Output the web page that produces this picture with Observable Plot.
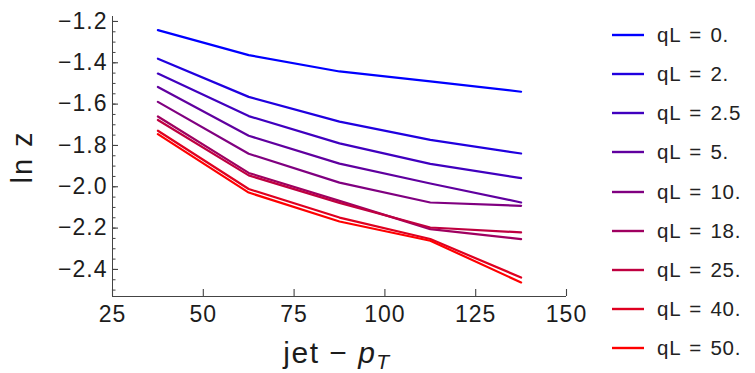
<!DOCTYPE html>
<html>
<head>
<meta charset="utf-8">
<script src="https://cdn.jsdelivr.net/npm/d3@7"></script>
<script src="https://cdn.jsdelivr.net/npm/@observablehq/plot@0.6"></script>
<style>
  html, body { margin: 0; padding: 0; background: #fff; }
  #wrap { position: relative; width: 755px; height: 373px; overflow: hidden; font-family: "Liberation Sans", Arial, sans-serif; }
  #legend { position: absolute; left: 612px; top: 15.4px; }
  .row { display: flex; align-items: center; height: 39.15px; }
  .row svg { display: block; }
  .row span { margin-left: 13px; font-size: 20.5px; color: #222; letter-spacing: 0.8px; word-spacing: 2px; white-space: pre; }
</style>
</head>
<body>
<div id="wrap"><div id="chart"></div><div id="legend"></div></div>
<script>
// ---- data ----
const pT = [37.5, 62.5, 87.5, 112.5, 137.5];
const qLLabels = ["0.", "2.", "2.5", "5.", "10.", "18.", "25.", "40.", "50."];
const lnz_qL0   = [-1.242, -1.363, -1.442, -1.490, -1.540];
const lnz_qL2   = [-1.380, -1.565, -1.685, -1.773, -1.839];
const lnz_qL2_5 = [-1.452, -1.658, -1.790, -1.889, -1.958];
const lnz_qL5   = [-1.517, -1.753, -1.888, -1.984, -2.076];
const lnz_qL10  = [-1.589, -1.840, -1.980, -2.076, -2.092];
const lnz_qL18  = [-1.660, -1.933, -2.068, -2.205, -2.253];
const lnz_qL25  = [-1.677, -1.945, -2.078, -2.197, -2.221];
const lnz_qL40  = [-1.729, -2.011, -2.149, -2.253, -2.439];
const lnz_qL50  = [-1.745, -2.028, -2.168, -2.261, -2.463];
const seriesValues = [lnz_qL0, lnz_qL2, lnz_qL2_5, lnz_qL5, lnz_qL10, lnz_qL18, lnz_qL25, lnz_qL40, lnz_qL50];
const xTicks = [25, 50, 75, 100, 125, 150];
const yTicks = [-2.4, -2.2, -2.0, -1.8, -1.6, -1.4, -1.2];
const xDomain = [25, 150];
const yDomain = [-2.531, -1.176];

// ---- derived ----
const colors = qLLabels.map((_, i) => d3.interpolateRgb("#0000ff", "#ff0000")(i / (qLLabels.length - 1)));
const data = qLLabels.flatMap((q, i) => pT.map((x, j) => ({pT: x, lnz: seriesValues[i][j], qL: q})));
const yMinor = d3.range(-50, -23).map(i => i / 20);

const W = 600, H = 373, mL = 112, mR = 34, mT = 16, mB = 77;
const frameW = W - mL - mR, frameH = H - mT - mB;
const axisColor = "#444";
const textColor = "#1c1c1c";

const chart = Plot.plot({
  width: W,
  height: H,
  marginLeft: mL,
  marginRight: mR,
  marginTop: mT,
  marginBottom: mB,
  x: {domain: xDomain, label: null},
  y: {domain: yDomain, label: null},
  color: {domain: qLLabels, range: colors},
  style: {fontFamily: "'Liberation Sans', Arial, sans-serif", fontSize: "23px", background: "transparent", overflow: "visible", color: textColor},
  marks: [
    Plot.ruleX([xDomain[0]], {stroke: axisColor, strokeWidth: 1}),
    Plot.ruleY([yDomain[0]], {stroke: axisColor, strokeWidth: 1}),
    // inward ticks
    Plot.tickY(yMinor, {y: d => d, stroke: axisColor, strokeWidth: 1, insetRight: frameW - 3.5}),
    Plot.tickY(yTicks, {y: d => d, stroke: axisColor, strokeWidth: 1.1, insetRight: frameW - 6}),
    Plot.tickX(xTicks, {x: d => d, stroke: axisColor, strokeWidth: 1.1, insetTop: frameH - 7}),
    // tick labels
    Plot.axisY(yTicks, {tickSize: 0, tickPadding: 5, fill: textColor, fontSize: 23, label: null,
      tickFormat: d => (d < 0 ? "\u2212" : "") + Math.abs(d).toFixed(1)}),
    Plot.axisX(xTicks, {tickSize: 0, tickPadding: 9, fill: textColor, fontSize: 23, label: null, tickFormat: d => String(d)}),
    Plot.line(data, {x: "pT", y: "lnz", z: "qL", stroke: "qL", strokeWidth: 2.2})
  ]
});

d3.select(chart).style("letter-spacing", "1px");

// axis titles
const svg = d3.select(chart);
svg.append("text")
  .attr("transform", "translate(32,157) rotate(-90)")
  .attr("text-anchor", "middle")
  .attr("fill", textColor)
  .style("font-size", "29px")
  .style("letter-spacing", "2px")
  .text("ln z");
const xt = svg.append("text")
  .attr("x", 337).attr("y", 363)
  .attr("text-anchor", "middle")
  .attr("fill", textColor)
  .style("font-size", "30px")
  .style("letter-spacing", "1.5px");
xt.append("tspan").text("jet \u2212 ");
xt.append("tspan").style("font-style", "italic").text("p");
xt.append("tspan").style("font-style", "italic").style("font-size", "21px").attr("dy", 6).text("T");

document.getElementById("chart").appendChild(chart);

// legend
const legend = d3.select("#legend");
qLLabels.forEach((q, i) => {
  const row = legend.append("div").attr("class", "row");
  const sw = row.append("svg").attr("width", 32).attr("height", 6);
  sw.append("line").attr("x1", 0).attr("x2", 32).attr("y1", 3).attr("y2", 3)
    .attr("stroke", colors[i]).attr("stroke-width", 2.4);
  row.append("span").text("qL = " + q);
});
</script>
</body>
</html>
